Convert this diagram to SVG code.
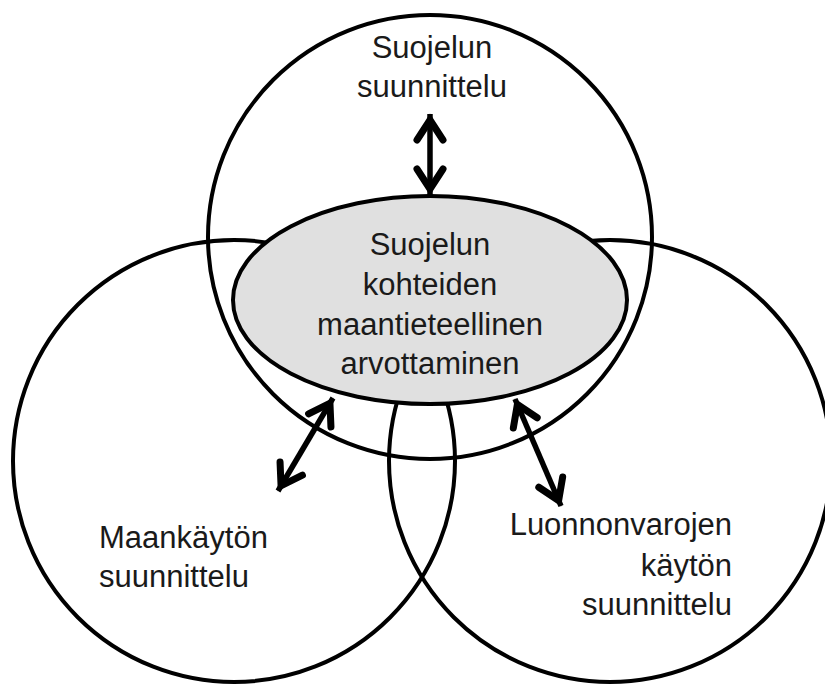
<svg xmlns="http://www.w3.org/2000/svg" width="825" height="685" viewBox="0 0 825 685">
<defs>
<style>
.c{fill:none;stroke:#000;stroke-width:4}
.e{fill:#e0e0e0;stroke:#000;stroke-width:4}
.t{font-family:"Liberation Sans",Arial,sans-serif;font-size:31px;fill:#1a1a1a}
.m{text-anchor:middle}
.a{fill:none;stroke:#000;stroke-width:5.5}
</style>
<marker id="h" markerUnits="userSpaceOnUse" orient="auto-start-reverse" refX="0" refY="0" markerWidth="40" markerHeight="40" overflow="visible">
<path d="M-26,-13 L-6,0 L-26,13" fill="none" stroke="#000" stroke-width="7" stroke-linejoin="miter" stroke-linecap="round"/>
</marker>
</defs>
<rect width="825" height="685" fill="#fff"/>
<g id="top-circle"><circle class="c" cx="430" cy="237" r="222"/></g>
<g id="left-circle"><circle class="c" cx="234" cy="461" r="221"/></g>
<g id="right-circle"><circle class="c" cx="610" cy="461" r="221"/></g>
<g id="center">
<ellipse class="e" cx="430" cy="300" rx="197" ry="104"/>
<text class="t m" x="430" y="255">Suojelun</text>
<text class="t m" x="430" y="295">kohteiden</text>
<text class="t m" x="430" y="335">maantieteellinen</text>
<text class="t m" x="430" y="374">arvottaminen</text>
</g>
<g id="top-label">
<text class="t m" x="432" y="58">Suojelun</text>
<text class="t m" x="432" y="97">suunnittelu</text>
</g>
<g id="left-label">
<text class="t" x="99" y="548">Maankäytön</text>
<text class="t" x="99" y="587">suunnittelu</text>
</g>
<g id="right-label">
<text class="t" x="732" y="535" text-anchor="end">Luonnonvarojen</text>
<text class="t" x="732" y="576" text-anchor="end">käytön</text>
<text class="t" x="732" y="615" text-anchor="end">suunnittelu</text>
</g>
<g id="connectors">
<line class="a" x1="430" y1="114" x2="430" y2="195" marker-start="url(#h)" marker-end="url(#h)"/>
<line class="a" x1="333" y1="398" x2="278" y2="491" marker-start="url(#h)" marker-end="url(#h)"/>
<line class="a" x1="515" y1="399" x2="561" y2="506" marker-start="url(#h)" marker-end="url(#h)"/>
</g>
</svg>
